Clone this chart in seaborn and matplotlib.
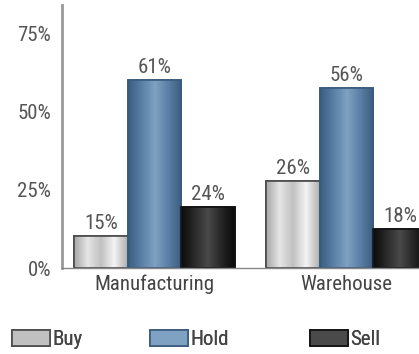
import matplotlib
matplotlib.use("Agg")
import matplotlib.pyplot as plt
from matplotlib import font_manager
from matplotlib.patches import Patch
from matplotlib.colors import LinearSegmentedColormap
import numpy as np
import pandas as pd
import seaborn as sns

# ---- data ----
categories = ["Manufacturing", "Warehouse"]
series = ["Buy", "Hold", "Sell"]
buy_values = [10.3, 28.0]
hold_values = [60.3, 57.7]
sell_values = [19.5, 12.5]
buy_labels = ["15%", "26%"]
hold_labels = ["61%", "56%"]
sell_labels = ["24%", "18%"]
y_ticks = [0, 25, 50, 75]
y_tick_labels = ["0%", "25%", "50%", "75%"]

sns.set_style("white")
available = {f.name for f in font_manager.fontManager.ttflist}
family = None
for cand in ["Liberation Sans Narrow", "DejaVu Sans Condensed", "Roboto Condensed", "Open Sans Condensed", "DejaVu Sans"]:
    if cand in available:
        family = cand
        break
plt.rcParams["font.family"] = [family, "DejaVu Sans"]

df = pd.DataFrame({
    "category": categories * 3,
    "series": [s for s in series for _ in categories],
    "value": buy_values + hold_values + sell_values,
})

face = {"Buy": "#cfcfcf", "Hold": "#557ba0", "Sell": "#222222"}
edge = {"Buy": "#4a4a4a", "Hold": "#3a5b7c", "Sell": "#111111"}
grad = {
    "Buy": ["#a8a8a8", "#e6e6e6", "#c0c0c0", "#f4f4f4", "#b0b0b0"],
    "Hold": ["#3b5e82", "#5a80a6", "#7fa1c2", "#5b80a5", "#3a5c80"],
    "Sell": ["#0c0c0c", "#2a2a2a", "#4a4a4a", "#262626", "#0a0a0a"],
}

W, H = 419, 354
TXT = "#555555"
FS = 15
fig = plt.figure(figsize=(W / 100, H / 100), dpi=100)
ax = fig.add_axes([62 / W, 86 / H, 1 - 62 / W, (268 - 5) / H])

sns.barplot(data=df, x="category", y="value", hue="series", order=categories,
            hue_order=series, palette=face, width=0.84, gap=0, ax=ax,
            legend=False, saturation=1, linewidth=1.2)

ax.set_xlim(-0.482, 1.378)
ax.set_ylim(0, 84.2)

labels_map = {"Buy": buy_labels, "Hold": hold_labels, "Sell": sell_labels}
for cont, s in zip(ax.containers, series):
    cmap = LinearSegmentedColormap.from_list(s, grad[s])
    for p in cont:
        p.set_edgecolor(edge[s])
        x0, y0 = p.get_x(), p.get_y()
        w, h = p.get_width(), p.get_height()
        im = ax.imshow(np.linspace(0, 1, 64).reshape(1, -1), cmap=cmap, aspect="auto",
                       extent=[x0, x0 + w, y0, y0 + h], zorder=p.get_zorder() + 0.1,
                       interpolation="bilinear")
        im.set_clip_path(p)
        outline = plt.Rectangle((x0, y0), w, h, fill=False, edgecolor=edge[s],
                                linewidth=1.2, zorder=p.get_zorder() + 0.2)
        ax.add_patch(outline)
    ax.bar_label(cont, labels=labels_map[s], padding=2, fontsize=FS, color=TXT)

ax.set_xlim(-0.482, 1.378)
ax.set_ylim(0, 84.2)
ax.set_yticks(y_ticks)
ax.set_yticklabels(y_tick_labels, fontsize=FS, color=TXT)
ax.tick_params(axis="y", length=0, pad=8)
ax.tick_params(axis="x", length=0, pad=5, labelsize=FS, labelcolor="#444444")
ax.set_xlabel("")
ax.set_ylabel("")
for side in ["top", "right"]:
    ax.spines[side].set_visible(False)
ax.spines["left"].set_color("#999999")
ax.spines["left"].set_linewidth(2)
ax.spines["bottom"].set_color("#888888")
ax.spines["bottom"].set_linewidth(1)

em = FS * 100 / 72
legend_x = [12, 150, 310]
for s, lx in zip(series, legend_x):
    cmap = LinearSegmentedColormap.from_list(s, grad[s])
    h = Patch(facecolor=cmap(0.5), edgecolor=edge[s], linewidth=1.2, label=s)
    leg = fig.legend(handles=[h], loc="lower left", bbox_to_anchor=(lx / W, 5 / H),
                     frameon=False, fontsize=FS, handlelength=38 / em, handleheight=17 / em,
                     handletextpad=0.1, borderpad=0, borderaxespad=0, labelcolor="#444444")
    fig.add_artist(leg)

fig.savefig("out.png", dpi=100)
